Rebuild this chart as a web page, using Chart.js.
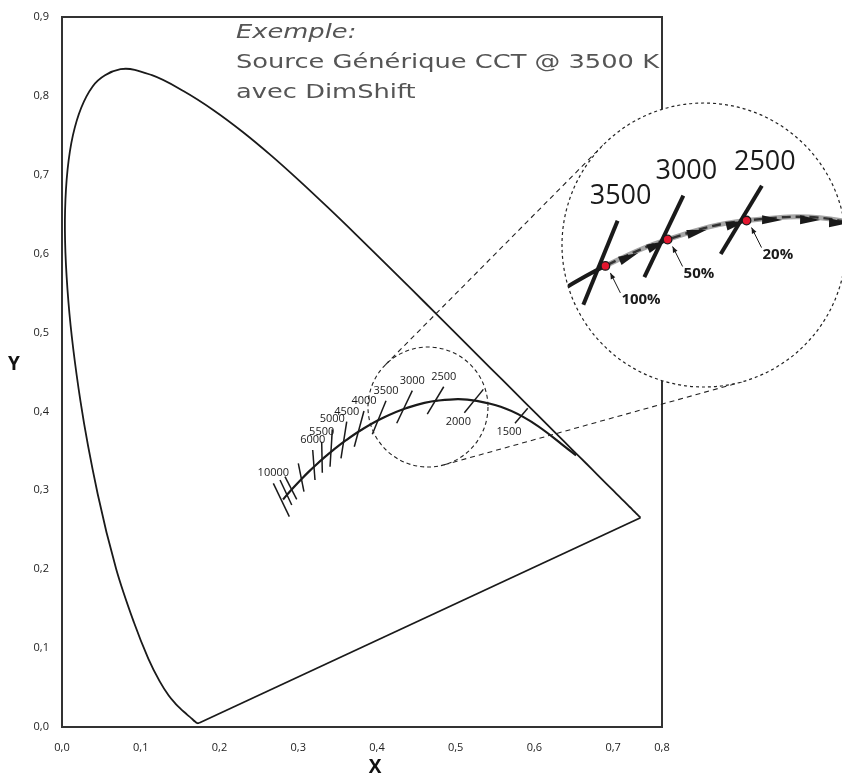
<!DOCTYPE html>
<html lang="fr">
<head>
<meta charset="utf-8">
<title>Diagramme CIE 1931 – DimShift</title>
<script src="https://cdn.jsdelivr.net/npm/chart.js@4.4.1/dist/chart.umd.min.js"></script>
<style>
  html, body { margin: 0; padding: 0; background: #fff; }
  canvas { display: block; }
</style>
</head>
<body>
<canvas id="cie" width="842" height="777"></canvas>
<script>
// spectral locus 380 -> 700 nm
const locusX = [0.1741, 0.1740, 0.1738, 0.1736, 0.1733, 0.1730, 0.1726, 0.1721, 0.1714, 0.1703, 0.1689, 0.1669,
  0.1644, 0.1611, 0.1566, 0.1510, 0.1440, 0.1355, 0.1241, 0.1096, 0.0913, 0.0687, 0.0454, 0.0235, 0.0082, 0.0039,
  0.0139, 0.0389, 0.0743, 0.1142, 0.1547, 0.1929, 0.2296, 0.2658, 0.3016, 0.3373, 0.3731, 0.4087, 0.4441, 0.4788,
  0.5125, 0.5448, 0.5752, 0.6029, 0.6270, 0.6482, 0.6658, 0.6801, 0.6915, 0.7006, 0.7079, 0.7140, 0.7190, 0.7230,
  0.7260, 0.7283, 0.7300, 0.7311, 0.7320, 0.7334, 0.7347];
const locusY = [0.0050, 0.0050, 0.0049, 0.0049, 0.0048, 0.0048, 0.0048, 0.0048, 0.0051, 0.0058, 0.0069, 0.0086,
  0.0109, 0.0138, 0.0177, 0.0227, 0.0297, 0.0399, 0.0578, 0.0868, 0.1327, 0.2007, 0.2950, 0.4127, 0.5384, 0.6548,
  0.7502, 0.8120, 0.8338, 0.8262, 0.8059, 0.7816, 0.7543, 0.7243, 0.6923, 0.6589, 0.6245, 0.5896, 0.5547, 0.5202,
  0.4866, 0.4544, 0.4242, 0.3965, 0.3725, 0.3514, 0.3340, 0.3197, 0.3083, 0.2993, 0.2920, 0.2859, 0.2809, 0.2770,
  0.2740, 0.2717, 0.2700, 0.2689, 0.2680, 0.2666, 0.2653];
// purple line, 700 nm back to 380 nm
const purpleX = [0.7347, 0.1741];
const purpleY = [0.2653, 0.0050];

// Planckian locus
const planckCct = [10000, 9000, 8000, 7000, 6500, 6000, 5500, 5000, 4500, 4000, 3500, 3000, 2500, 2000, 1500, 1000];
const planckX = [0.2807, 0.2869, 0.2952, 0.3064, 0.3135, 0.3221, 0.3325, 0.3451, 0.3608, 0.3805, 0.4053, 0.4369, 0.4770, 0.5267, 0.5857, 0.6528];
const planckY = [0.2884, 0.2956, 0.3048, 0.3166, 0.3237, 0.3318, 0.3411, 0.3516, 0.3636, 0.3768, 0.3907, 0.4041, 0.4137, 0.4133, 0.3931, 0.3444];

// isotherm segments (upper end / lower end)
const isoCct = [10000, 9000, 8000, 7000, 6000, 5500, 5000, 4500, 4000, 3500, 3000, 2500, 2000, 1500];
const isoLabels = ['10000', '', '', '', '6000', '5500', '5000', '4500', '4000', '3500', '3000', '2500', '2000', '1500'];
const isoTopX = [0.2684, 0.2769, 0.2832, 0.3001, 0.3184, 0.3298, 0.3433, 0.3616, 0.3835, 0.4115, 0.4449, 0.4848, 0.5351, 0.5915];
const isoTopY = [0.3089, 0.3131, 0.3173, 0.3343, 0.3511, 0.3616, 0.3773, 0.3870, 0.4005, 0.4136, 0.4263, 0.4313, 0.4280, 0.4040];
const isoBotX = [0.2887, 0.2918, 0.2981, 0.3073, 0.3213, 0.3306, 0.3404, 0.3543, 0.3712, 0.3941, 0.4251, 0.4639, 0.5110, 0.5753];
const isoBotY = [0.2666, 0.2814, 0.2886, 0.2983, 0.3131, 0.3223, 0.3299, 0.3406, 0.3553, 0.3710, 0.3850, 0.3967, 0.3984, 0.3850];

// dimming steps shown in the zoom
const dimCct = [3500, 3000, 2500];
const dimLabels = ['100%', '50%', '20%'];
const arrowX = [0.4173, 0.4316, 0.4519, 0.4717, 0.4900, 0.5093, 0.5240];
const arrowY = [0.3952, 0.4013, 0.4079, 0.4120, 0.4140, 0.4140, 0.4125];

// axes
const xTicks = [0, 0.1, 0.2, 0.3, 0.4, 0.5, 0.6, 0.7, 0.762];
const xTickLabels = ['0,0', '0,1', '0,2', '0,3', '0,4', '0,5', '0,6', '0,7', '0,8'];
const yTicks = [0, 0.1, 0.2, 0.3, 0.4, 0.5, 0.6, 0.7, 0.8, 0.9];
const yTickLabels = ['0,0', '0,1', '0,2', '0,3', '0,4', '0,5', '0,6', '0,7', '0,8', '0,9'];

const titleLines = ['Exemple:', 'Source Générique CCT @ 3500 K', 'avec DimShift'];

const INK = '#1a1a1a';
const FONT = "'Open Sans', 'DejaVu Sans', sans-serif";
const CAPTION_FONT = "'DejaVu Sans', 'Open Sans', sans-serif";
// lens: small circle on the chart (data centre, px radius) and the magnified view
const LENS = { x: 0.4648, y: 0.4056, r: 60 };
const INSET = { cx: 704, cy: 245, r: 142, k: 2.5, fx: 0.4554, fy: 0.4013 };

const toPts = (xs, ys) => xs.map((v, i) => ({ x: v, y: ys[i] }));

function tangents(c1, r1, c2, r2) {
    const dx = c2.x - c1.x, dy = c2.y - c1.y, d = Math.hypot(dx, dy);
    const base = Math.atan2(dy, dx), off = Math.acos((r1 - r2) / d);
    return [base + off, base - off].map(a => {
        const n = { x: Math.cos(a), y: Math.sin(a) };
        return [{ x: c1.x + r1 * n.x, y: c1.y + r1 * n.y }, { x: c2.x + r2 * n.x, y: c2.y + r2 * n.y }];
    });
}

const PLANCK = 2;   // dataset index of the Planckian locus
const ISO0 = 3;     // first isotherm dataset

const overlay = {
    id: 'overlay',
    afterDatasetsDraw(chart) {
        const { ctx, chartArea: a, scales: { x, y } } = chart;
        const W = chart.width, H = chart.height;
        const base = ctx.getTransform();
        ctx.save();

        // frame
        ctx.strokeStyle = '#333';
        ctx.lineWidth = 2;
        ctx.strokeRect(a.left, a.top, a.width, a.height);

        // isotherm labels
        ctx.fillStyle = INK;
        ctx.font = '11px ' + FONT;
        ctx.textAlign = 'center';
        ctx.textBaseline = 'middle';
        isoCct.forEach((t, i) => {
            if (!isoLabels[i]) return;
            if (t <= 2000) {
                ctx.fillText(isoLabels[i], x.getPixelForValue(isoBotX[i]) - 6, y.getPixelForValue(isoBotY[i]) + 9);
            } else {
                ctx.fillText(isoLabels[i], x.getPixelForValue(isoTopX[i]), y.getPixelForValue(isoTopY[i]) - 10);
            }
        });

        // lens circle and the two tangents to the zoom
        const lc = { x: x.getPixelForValue(LENS.x), y: y.getPixelForValue(LENS.y) };
        const ic = { x: INSET.cx, y: INSET.cy };
        ctx.strokeStyle = '#222';
        ctx.lineWidth = 1.1;
        ctx.setLineDash([4, 3]);
        ctx.beginPath();
        ctx.arc(lc.x, lc.y, LENS.r, 0, Math.PI * 2);
        ctx.stroke();
        ctx.setLineDash([5, 4]);
        tangents(lc, LENS.r, ic, INSET.r).forEach(([p, q]) => {
            ctx.beginPath();
            ctx.moveTo(p.x, p.y);
            ctx.lineTo(q.x, q.y);
            ctx.stroke();
        });
        ctx.setLineDash([]);

        // zoomed view
        const lensPath = () => { ctx.beginPath(); ctx.arc(ic.x, ic.y, INSET.r, 0, Math.PI * 2); };
        lensPath();
        ctx.fillStyle = '#fff';
        ctx.fill();

        const k = INSET.k;
        const tx = ic.x - k * x.getPixelForValue(INSET.fx);
        const ty = ic.y - k * y.getPixelForValue(INSET.fy);
        const map = p => ({ x: tx + k * p.x, y: ty + k * p.y });
        const traced = el => {
            ctx.beginPath();
            ctx.setTransform(base);
            ctx.transform(k, 0, 0, k, tx, ty);
            el.path(ctx);
            ctx.setTransform(base);
        };

        const planckMeta = chart.getDatasetMeta(PLANCK);
        const pts = planckMeta.data;
        const dots = dimCct.map(t => map(pts[planckCct.indexOf(t)]));

        ctx.save();
        lensPath();
        ctx.clip();

        // locus before the 100% point: solid
        ctx.save();
        ctx.beginPath();
        ctx.rect(0, 0, dots[0].x, H);
        ctx.clip();
        traced(planckMeta.dataset);
        ctx.strokeStyle = INK;
        ctx.lineWidth = 4;
        ctx.stroke();
        ctx.restore();

        // dimming path: grey with black dashes
        ctx.save();
        ctx.beginPath();
        ctx.rect(dots[0].x, 0, W, H);
        ctx.clip();
        traced(planckMeta.dataset);
        ctx.strokeStyle = '#a6a6a6';
        ctx.lineWidth = 5;
        ctx.stroke();
        ctx.setLineDash([9, 5]);
        ctx.strokeStyle = '#333';
        ctx.lineWidth = 2.4;
        ctx.stroke();
        ctx.setLineDash([]);
        ctx.restore();

        // arrows along the dimming path
        ctx.fillStyle = INK;
        arrowX.forEach((ax, i) => {
            const mx = x.getPixelForValue(ax), my = y.getPixelForValue(arrowY[i]);
            let j = 0;
            while (j < pts.length - 2 && pts[j + 1].x < mx) j++;
            const ang = Math.atan2(pts[j + 1].y - pts[j].y, pts[j + 1].x - pts[j].x);
            const p = map({ x: mx, y: my });
            ctx.save();
            ctx.translate(p.x, p.y);
            ctx.rotate(ang);
            ctx.beginPath();
            ctx.moveTo(10, 0);
            ctx.lineTo(-10, -4.5);
            ctx.lineTo(-10, 4.5);
            ctx.closePath();
            ctx.fill();
            ctx.restore();
        });

        // magnified isotherms + labels
        dimCct.forEach(t => {
            const i = isoCct.indexOf(t);
            traced(chart.getDatasetMeta(ISO0 + i).dataset);
            ctx.strokeStyle = INK;
            ctx.lineWidth = 4;
            ctx.stroke();
            const top = map({ x: x.getPixelForValue(isoTopX[i]), y: y.getPixelForValue(isoTopY[i]) });
            ctx.fillStyle = INK;
            ctx.font = '27px ' + FONT;
            ctx.textAlign = 'center';
            ctx.textBaseline = 'middle';
            ctx.fillText(isoLabels[i], top.x + 3, top.y - 24);
        });

        // dimming points
        dots.forEach((d, i) => {
            ctx.beginPath();
            ctx.arc(d.x, d.y, 4.3, 0, Math.PI * 2);
            ctx.fillStyle = '#e3172f';
            ctx.fill();
            ctx.strokeStyle = INK;
            ctx.lineWidth = 1.3;
            ctx.stroke();

            // pointer
            const sx = d.x + 15, sy = d.y + 27, ex = d.x + 5, ey = d.y + 7;
            const ang = Math.atan2(ey - sy, ex - sx);
            ctx.lineWidth = 1;
            ctx.beginPath();
            ctx.moveTo(sx, sy);
            ctx.lineTo(ex, ey);
            ctx.stroke();
            ctx.save();
            ctx.translate(ex, ey);
            ctx.rotate(ang);
            ctx.beginPath();
            ctx.moveTo(0, 0);
            ctx.lineTo(-6, -2.5);
            ctx.lineTo(-6, 2.5);
            ctx.closePath();
            ctx.fillStyle = INK;
            ctx.fill();
            ctx.restore();

            ctx.fillStyle = INK;
            ctx.font = 'bold 15px ' + FONT;
            ctx.textAlign = 'left';
            ctx.textBaseline = 'middle';
            ctx.fillText(dimLabels[i], d.x + 16, d.y + 34);
        });
        ctx.restore();

        lensPath();
        ctx.setLineDash([3, 3]);
        ctx.strokeStyle = '#222';
        ctx.lineWidth = 1.2;
        ctx.stroke();
        ctx.setLineDash([]);

        // axis titles
        ctx.fillStyle = '#111';
        ctx.font = 'bold 19px ' + FONT;
        ctx.textAlign = 'center';
        ctx.textBaseline = 'middle';
        ctx.fillText('X', 375, 768);
        ctx.fillText('Y', 14, 365);

        // caption, stretched to the width of the original lettering
        ctx.textAlign = 'left';
        ctx.textBaseline = 'alphabetic';
        ctx.fillStyle = '#555';
        ctx.font = '20px ' + CAPTION_FONT;
        const stretch = 423 / ctx.measureText(titleLines[1]).width;
        titleLines.forEach((line, i) => {
            ctx.font = (i === 0 ? 'oblique ' : '') + '20px ' + CAPTION_FONT;
            ctx.save();
            ctx.translate(236, 38 + i * 30);
            ctx.scale(stretch, 1);
            ctx.fillText(line, 0, 0);
            ctx.restore();
        });

        ctx.restore();
    }
};

document.addEventListener('DOMContentLoaded', () => {
    const datasets = [
        { label: 'locus', data: toPts(locusX, locusY), borderColor: INK, borderWidth: 1.8, tension: 0.35 },
        { label: 'purple', data: toPts(purpleX, purpleY), borderColor: INK, borderWidth: 1.8, tension: 0 },
        { label: 'planck', data: toPts(planckX, planckY), borderColor: INK, borderWidth: 2.2, tension: 0.4 },
        ...isoCct.map((t, i) => ({
            label: 'iso ' + t,
            data: [{ x: isoTopX[i], y: isoTopY[i] }, { x: isoBotX[i], y: isoBotY[i] }],
            borderColor: INK,
            borderWidth: 1.5,
            tension: 0
        }))
    ];

    new Chart(document.getElementById('cie'), {
        type: 'line',
        data: { datasets },
        options: {
            responsive: false,
            animation: false,
            devicePixelRatio: 1,
            elements: { point: { radius: 0, hoverRadius: 0 } },
            layout: { padding: { left: 0, right: 180, top: 17, bottom: 0 } },
            plugins: { legend: { display: false }, tooltip: { enabled: false } },
            events: [],
            scales: {
                x: {
                    type: 'linear',
                    min: 0,
                    max: xTicks[xTicks.length - 1],
                    grid: { display: false },
                    border: { display: false },
                    afterBuildTicks: s => { s.ticks = xTicks.map(v => ({ value: v })); },
                    afterFit: s => { s.height = 50; },
                    ticks: {
                        autoSkip: false,
                        maxRotation: 0,
                        padding: 6,
                        color: '#222',
                        font: { family: FONT, size: 11 },
                        callback: (v, i) => xTickLabels[i]
                    }
                },
                y: {
                    type: 'linear',
                    min: 0,
                    max: 0.9,
                    grid: { display: false },
                    border: { display: false },
                    afterBuildTicks: s => { s.ticks = yTicks.map(v => ({ value: v })); },
                    afterFit: s => { s.width = 62; },
                    ticks: {
                        autoSkip: false,
                        padding: 5,
                        color: '#222',
                        font: { family: FONT, size: 11 },
                        callback: (v, i) => yTickLabels[i]
                    }
                }
            }
        },
        plugins: [overlay]
    });
});
</script>
</body>
</html>
